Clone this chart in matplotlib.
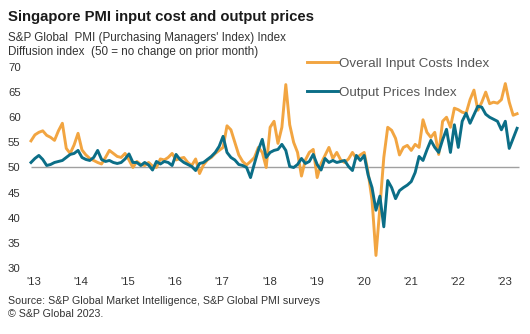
import matplotlib
matplotlib.use("Agg")
import matplotlib.pyplot as plt
import numpy as np

plt.rcParams['font.family'] = ['Liberation Sans', 'DejaVu Sans']

# Monthly data, Jan 2013 - May 2023
input_costs = [
    # 2013
    55.3, 56.5, 57.0, 57.3, 56.4, 56.0, 55.4, 57.3, 58.8, 53.8, 52.8, 54.5,
    # 2014
    56.8, 53.5, 52.5, 51.8, 51.4, 51.0, 50.7, 52.0, 53.4, 52.8, 52.2, 52.0,
    # 2015
    52.8, 51.5, 50.0, 51.2, 50.6, 50.4, 51.0, 50.3, 50.0, 51.7, 51.5, 52.0,
    # 2016
    52.8, 51.5, 51.8, 52.0, 51.0, 50.4, 51.7, 48.8, 50.5, 51.5, 52.0, 52.8,
    # 2017
    53.4, 54.0, 58.3, 57.5, 55.0, 52.5, 51.2, 50.5, 51.2, 52.0, 54.0, 53.0,
    # 2018
    50.0, 58.0, 59.2, 54.8, 58.0, 66.5, 58.5, 55.0, 53.0, 48.3, 51.5, 53.0,
    # 2019
    53.6, 48.0, 50.8, 52.4, 54.0, 51.8, 53.0, 51.5, 51.0, 51.7, 53.0, 51.8,
    # 2020
    52.5, 53.0, 49.0, 43.5, 32.5, 42.0, 52.0, 58.0, 57.4, 55.8, 52.5, 54.0,
    # 2021
    54.4, 53.4, 54.6, 54.0, 59.5, 57.0, 56.0, 57.0, 52.6, 59.2, 60.0, 58.0,
    # 2022
    61.8, 61.5, 61.0, 60.8, 63.5, 65.4, 61.4, 63.0, 65.0, 62.7, 63.0, 62.8,
    # 2023
    63.5, 66.7, 63.0, 60.4, 60.7,
]

output_prices = [
    # 2013
    51.0, 51.8, 52.4, 51.6, 50.4, 50.6, 51.0, 51.2, 51.4, 52.0, 52.6, 52.8,
    # 2014
    53.4, 52.0, 51.6, 51.4, 52.0, 53.4, 51.6, 51.2, 51.4, 51.0, 50.8, 51.0,
    # 2015
    51.7, 52.7, 51.0, 51.0, 50.4, 51.0, 50.5, 49.5, 51.2, 50.7, 51.2, 51.0,
    # 2016
    50.4, 52.6, 51.6, 51.0, 50.6, 50.2, 49.4, 50.8, 51.0, 51.6, 52.2, 53.0,
    # 2017
    54.2, 56.2, 53.0, 52.0, 51.5, 50.6, 50.4, 50.0, 48.0, 50.8, 53.5, 55.6,
    # 2018
    52.0, 53.0, 53.4, 53.6, 54.6, 53.4, 50.2, 50.0, 50.6, 51.8, 50.8, 51.2,
    # 2019
    52.6, 50.6, 49.5, 51.8, 51.0, 51.4, 51.0, 51.2, 51.4, 50.2, 49.4, 52.4,
    # 2020
    51.4, 52.4, 48.5, 46.0, 41.5, 44.3, 38.2, 47.4, 46.0, 43.8, 45.4, 46.0,
    # 2021
    46.5, 47.2, 49.0, 52.2, 51.4, 53.5, 55.4, 54.0, 53.0, 55.5, 57.6, 53.0,
    # 2022
    58.5, 54.0, 59.2, 60.8, 58.8, 60.5, 62.2, 62.0, 60.6, 60.0, 59.6, 59.2,
    # 2023
    57.5, 59.2, 53.8, 55.8, 57.8,
]

year_labels = ["'13", "'14", "'15", "'16", "'17", "'18", "'19", "'20", "'21", "'22", "'23"]
y_ticks = [30, 35, 40, 45, 50, 55, 60, 65, 70]

orange = '#F2A541'
teal = '#0B6E87'

W, H = 530, 334
fig = plt.figure(figsize=(W / 100, H / 100), dpi=100)

left_px, right_px = 28, 522
top_px, bottom_px = 67, 268
ax = fig.add_axes([left_px / W, 1 - bottom_px / H, (right_px - left_px) / W, (bottom_px - top_px) / H])

months = np.arange(len(input_costs))
step = 3.92
x0 = 31
ax.set_xlim((left_px - x0) / step, (right_px - x0) / step)
ax.set_ylim(30, 70)

ax.hlines(50, 0, len(input_costs) - 1 + 0.4, color='#a0a0a0', lw=1.0, zorder=1)
ax.plot(months, input_costs, color=orange, lw=2.1, label='Overall Input Costs Index', zorder=2,
        solid_joinstyle='round')
ax.plot(months, output_prices, color=teal, lw=2.1, label='Output Prices Index', zorder=3,
        solid_joinstyle='round')

for s in ax.spines.values():
    s.set_visible(False)

ax.set_yticks(y_ticks)
ax.set_yticklabels([str(v) for v in y_ticks])
ax.tick_params(axis='y', length=0, pad=14.4, labelsize=8.2, labelcolor='#333333')
for lab in ax.get_yticklabels():
    lab.set_horizontalalignment('left')

ax.set_xticks([12 * i + 0.8 for i in range(len(year_labels))])
ax.set_xticklabels(year_labels)
ax.tick_params(axis='x', length=0, pad=6.5, labelsize=8.2, labelcolor='#333333')

leg = ax.legend(loc='upper left', bbox_to_anchor=(307 / W, 1 - 57.5 / H), bbox_transform=fig.transFigure,
                frameon=False, fontsize=9.6, handlelength=2.3, handletextpad=0.1, labelspacing=1.25,
                borderpad=0, borderaxespad=0)
for t in leg.get_texts():
    t.set_color('#555555')

fig.text(8 / W, 1 - 17 / H, 'Singapore PMI input cost and output prices', fontsize=10.7, fontweight='bold',
         color='#1a1a1a', va='center', ha='left')
fig.text(8 / W, 1 - 38 / H, "S&P Global  PMI (Purchasing Managers' Index) Index", fontsize=8.4,
         color='#333333', va='center', ha='left')
fig.text(8 / W, 1 - 52 / H, 'Diffusion index  (50 = no change on prior month)', fontsize=8.4,
         color='#333333', va='center', ha='left')
fig.text(8 / W, 1 - 301 / H, 'Source: S&P Global Market Intelligence, S&P Global PMI surveys', fontsize=7.7,
         color='#333333', va='center', ha='left')
fig.text(8 / W, 1 - 314 / H, '\u00a9 S&P Global 2023.', fontsize=7.7,
         color='#333333', va='center', ha='left')

fig.savefig('out.png', dpi=100)
